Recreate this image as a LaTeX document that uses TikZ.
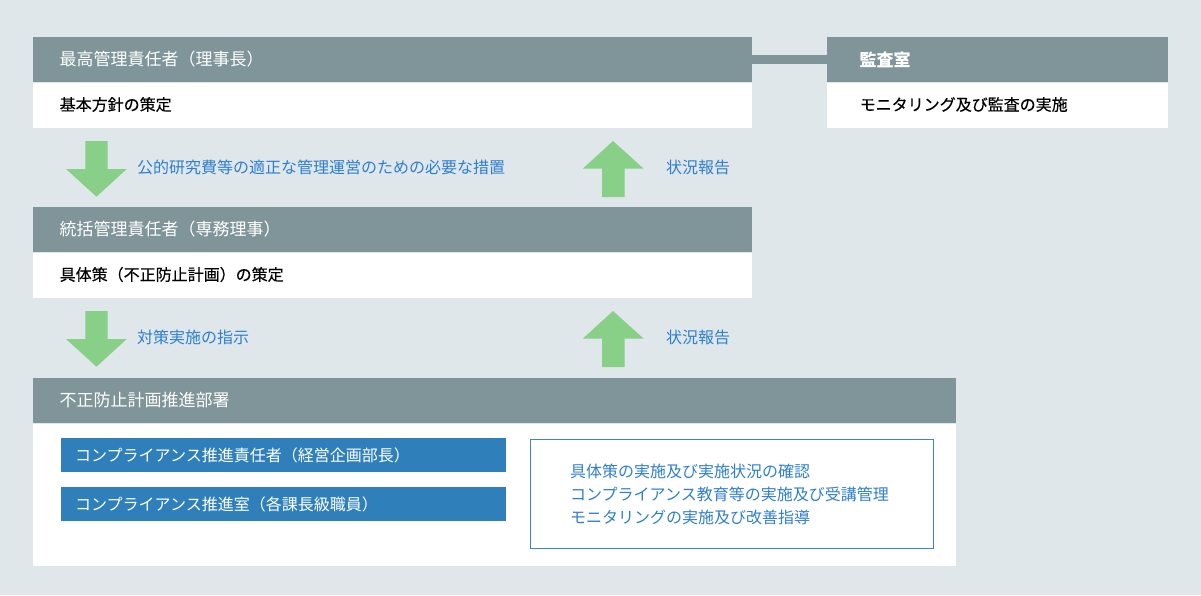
\documentclass[tikz,border=0pt]{standalone}
\usepackage{fontspec}
\setmainfont{Noto Sans CJK JP}
\newfontfamily\jpm{Noto Sans CJK JP}[BoldFont={Noto Sans CJK JP},BoldFeatures={FakeBold=0.35}]
\definecolor{bgc}{HTML}{DFE7EA}
\definecolor{hdc}{HTML}{7F9599}
\definecolor{grn}{HTML}{88CF88}
\definecolor{lbl}{HTML}{2F7FD0}
\definecolor{bar}{HTML}{2F80BA}
\definecolor{olc}{HTML}{3A86C6}
\begin{document}
\begin{tikzpicture}[x=1pt,y=-1pt,
  hdr/.style={fill=hdc,draw=none,minimum height=45pt,anchor=north west,inner sep=0pt},
  bdy/.style={fill=white,draw=none,anchor=north west,inner sep=0pt},
  htxt/.style={anchor=west,text=white,font=\fontsize{17}{20}\selectfont,inner sep=0pt},
  btxt/.style={anchor=west,text=black,font=\jpm\bfseries\fontsize{16}{18}\selectfont,inner sep=0pt},
  ltxt/.style={anchor=west,text=lbl,font=\fontsize{16}{18}\selectfont,inner sep=0pt},
  barbox/.style={fill=bar,draw=none,minimum width=445pt,minimum height=34pt,anchor=north west,inner sep=0pt},
  bartxt/.style={anchor=west,text=white,font=\fontsize{16}{18}\selectfont,inner sep=0pt},
  darr/.style={fill=grn,draw=none},
]
\useasboundingbox (0,0) rectangle (1201,595);
\fill[bgc] (0,0) rectangle (1201,595);

% top box
\node[hdr,minimum width=719pt] (h1) at (33,37) {};
\node[bdy,minimum width=719pt,minimum height=45pt] (b1) at (33,82.5) {};
\node[htxt] (t1) at (59.5,59.5) {最高管理責任者（理事長）};
\node[btxt] (s1) at (59.5,104.5) {基本方針の策定};

% audit box
\node[hdr,minimum width=341pt] (h4) at (827,37) {};
\node[bdy,minimum width=341pt,minimum height=45pt] (b4) at (827,82.5) {};
\node[htxt,font=\fontsize{17}{20}\selectfont\bfseries] (t4) at (859.5,59.5) {監査室};
\node[btxt] (s4) at (859.5,104.5) {モニタリング及び監査の実施};
\draw[hdc,line width=9.5pt] (h1.east) -- (h4.west);

% second box
\node[hdr,minimum width=719pt] (h2) at (33,207) {};
\node[bdy,minimum width=719pt,minimum height=45pt] (b2) at (33,252.5) {};
\node[htxt] (t2) at (59.5,229.5) {統括管理責任者（専務理事）};
\node[btxt] (s2) at (59.5,274.5) {具体策（不正防止計画）の策定};

% third box
\node[hdr,minimum width=923pt] (h3) at (33,378) {};
\node[bdy,minimum width=923pt,minimum height=142pt] (b3) at (33,423.5) {};
\node[htxt] (t3) at (59.5,400.5) {不正防止計画推進部署};
\node[barbox] (r1) at (61,438) {};
\node[bartxt] at (75,455) {コンプライアンス推進責任者（経営企画部長）};
\node[barbox] (r2) at (61,487) {};
\node[bartxt] at (75,504) {コンプライアンス推進室（各課長級職員）};
\node[draw=olc,line width=0.8pt,fill=white,minimum width=403pt,minimum height=109pt,anchor=north west,inner sep=0pt] (ol) at (529.5,438.5) {};
\node[ltxt] at (570,471) {具体策の実施及び実施状況の確認};
\node[ltxt] at (570,494) {コンプライアンス教育等の実施及び受講管理};
\node[ltxt] at (570,517) {モニタリングの実施及び改善指導};

% arrows set 1
\fill[darr] (85.3,141) -- (107.7,141) -- (107.7,169) -- (126.7,169) -- (96.5,196.7) -- (66,169) -- (85.3,169) -- cycle;
\node[ltxt] (l1) at (137,167) {公的研究費等の適正な管理運営のための必要な措置};
\fill[darr] (602,197) -- (624.5,197) -- (624.5,168.5) -- (643.5,168.5) -- (613,141) -- (583,168.5) -- (602,168.5) -- cycle;
\node[ltxt] (l2) at (666,167) {状況報告};

% arrows set 2
\fill[darr] (85.3,311) -- (107.7,311) -- (107.7,339) -- (126.7,339) -- (96.5,366.7) -- (66,339) -- (85.3,339) -- cycle;
\node[ltxt] (l3) at (137,337) {対策実施の指示};
\fill[darr] (602,367) -- (624.5,367) -- (624.5,338.5) -- (643.5,338.5) -- (613,311) -- (583,338.5) -- (602,338.5) -- cycle;
\node[ltxt] (l4) at (666,337) {状況報告};
\end{tikzpicture}
\end{document}
